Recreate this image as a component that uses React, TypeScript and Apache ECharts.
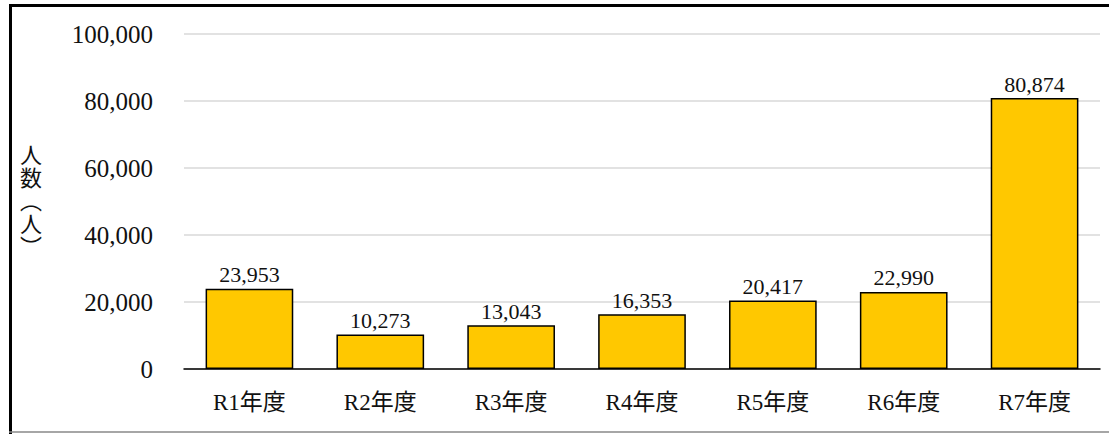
import React, { useEffect, useRef } from "react";
import * as echarts from "echarts";

const categories = ["R1年度", "R2年度", "R3年度", "R4年度", "R5年度", "R6年度", "R7年度"];
const values = [23953, 10273, 13043, 16353, 20417, 22990, 80874];
const yAxisTitle = "人\n数\n︵\n人\n︶";

const FONT = "'Liberation Serif', 'Noto Sans CJK JP', serif";

export default function App() {
  const ref = useRef<HTMLDivElement>(null);
  useEffect(() => {
    if (!ref.current) return;
    const chart = echarts.init(ref.current, null, { renderer: "svg" });
    chart.setOption({
      animation: false,
      backgroundColor: "#ffffff",
      textStyle: { fontFamily: FONT },
      grid: { left: 184, right: 9, top: 34, bottom: 65, containLabel: false },
      xAxis: {
        type: "category",
        data: categories,
        axisLine: { show: true, lineStyle: { color: "#000", width: 1.5 } },
        axisTick: { show: false },
        axisLabel: { color: "#111", fontSize: 23, fontFamily: FONT, margin: 22 },
      },
      yAxis: {
        type: "value",
        min: 0,
        max: 100000,
        interval: 20000,
        name: yAxisTitle,
        nameLocation: "middle",
        nameGap: 142,
        nameRotate: 0,
        nameTextStyle: { color: "#111", fontSize: 22, fontFamily: FONT, lineHeight: 23 },
        axisLine: { show: false },
        axisTick: { show: false },
        splitLine: { lineStyle: { color: "#d9d9d9", width: 1.5 } },
        axisLabel: {
          color: "#111",
          fontSize: 25,
          fontFamily: FONT,
          margin: 31,
          formatter: (v: number) => v.toLocaleString("en-US"),
        },
      },
      series: [
        {
          type: "bar",
          data: values,
          barWidth: "67%",
          itemStyle: { color: "#FFC800", borderColor: "#000", borderWidth: 1.5 },
          label: {
            show: true,
            position: "top",
            distance: 3,
            color: "#111",
            fontSize: 22,
            fontFamily: FONT,
            formatter: (p: any) => Number(p.value).toLocaleString("en-US"),
          },
        },
      ],
      graphic: [
        { type: "line", shape: { x1: 10.5, y1: 4, x2: 10.5, y2: 434 }, style: { stroke: "#000", lineWidth: 3 } },
        { type: "line", shape: { x1: 9, y1: 5.5, x2: 1109, y2: 5.5 }, style: { stroke: "#000", lineWidth: 3 } },
        { type: "line", shape: { x1: 9, y1: 432, x2: 1109, y2: 432 }, style: { stroke: "#888", lineWidth: 1.5 } },
      ],
    });
    return () => chart.dispose();
  }, []);
  return (
    <div
      ref={ref}
      style={{ position: "absolute", left: 0, top: 0, width: 1109, height: 434 }}
    />
  );
}
